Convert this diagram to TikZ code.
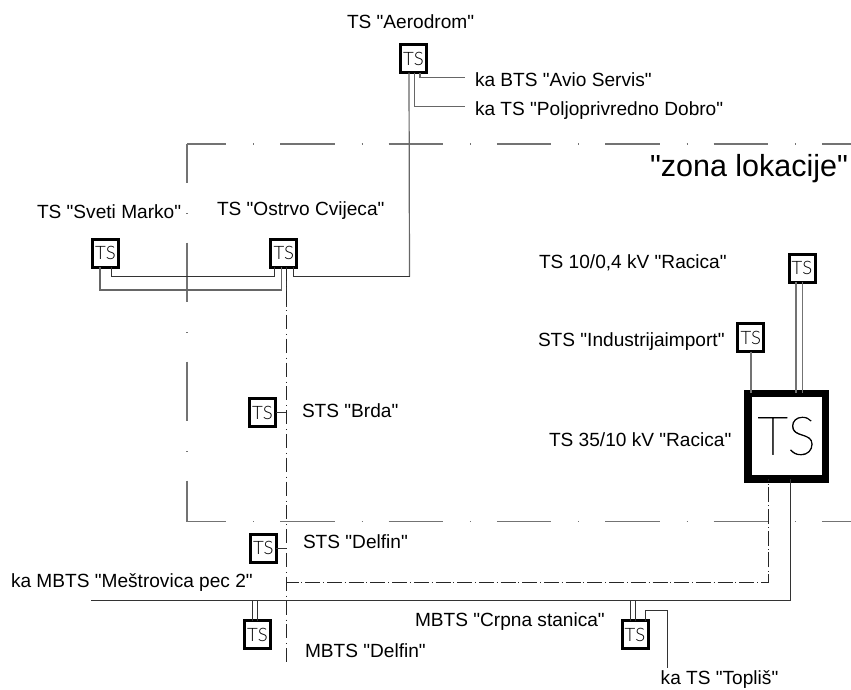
\documentclass[tikz,border=0pt]{standalone}
\usepackage{fontspec}
\setmainfont{Liberation Sans}[Ligatures=TeXOff]
\newfontfamily\thinfont{Lato Light}
\newfontfamily\hairfont{Lato Hairline}[FakeBold=1.2]
\tikzset{
  x=1pt,y=-1pt,
  tbox/.style={draw=black,fill=white,line width=3pt,minimum width=26pt,minimum height=28pt,inner sep=0pt,outer sep=0pt,
     font=\thinfont\fontsize{18.5}{18.5}\selectfont},
  bigbox/.style={draw=black,fill=white,line width=7.5pt,minimum width=77.5pt,minimum height=85.5pt,inner sep=0pt,outer sep=0pt,
     font=\hairfont\fontsize{53}{53}\selectfont},
  lbl/.style={anchor=base west,inner sep=0pt,outer sep=0pt,text=black,font=\fontsize{19.1}{20}\selectfont},
  wire/.style={draw=black!60,line width=1.2pt},
  thickwire/.style={draw=black!55,line width=1.4pt},
  darkwire/.style={draw=black!80,line width=0.9pt},
  zonel/.style={draw=black!55,line width=1.2pt},
  zoneh/.style={zonel,dash pattern=on 54.3pt off 27pt on 0.8pt off 26.2pt,dash phase=15pt},
  zonev/.style={zonel,dash pattern=on 59.5pt off 30pt on 0.8pt off 28.7pt,dash phase=20.5pt},
  dashdotv/.style={draw=black!85,line width=0.8pt,dash pattern=on 14pt off 5pt on 0.8pt off 4pt},
  dashdoth/.style={draw=black!85,line width=0.8pt,dash pattern=on 15pt off 2.7pt on 0.8pt off 3.2pt,dash phase=2.7pt},
}
\begin{document}
\begin{tikzpicture}
\useasboundingbox (0,0) rectangle (851,689);
% zone boundary
\coordinate (zTL) at (187,144);
\coordinate (zBL) at (187,521.7);
\coordinate (zTR) at (851,144);
\coordinate (zBR) at (851,521.7);
\draw[zoneh] (zTL) -- (zTR);
\draw[zoneh] (zBL) -- (zBR);
\draw[zonev] (zTL) -- (zBL);
% stations
\node[tbox] (aer) at (413.5,58.5) {TS};
\node[tbox] (mar) at (105.5,253.3) {TS};
\node[tbox] (ost) at (283.8,253.3) {TS};
\node[tbox] (rac) at (802,268) {TS};
\node[tbox] (ind) at (750.8,337.5) {TS};
\node[bigbox] (big) at (786.7,436) {TS};
\node[tbox] (brd) at (262.5,412.5) {TS};
\node[tbox] (dst) at (263.3,548.2) {TS};
\node[tbox] (dmb) at (257.5,634.5) {TS};
\node[tbox] (crp) at (635,634.5) {TS};
% free ends
\coordinate (avio) at (465,77.5);
\coordinate (polj) at (465,106.7);
\coordinate (corA) at (409.5,276.7);
\coordinate (rowB) at (0,290);
\coordinate (mbEnd) at (91,600.7);
\coordinate (bigCor) at (790.3,600.7);
\coordinate (ddv) at (286.3,666);
\coordinate (ddvS) at (286.3,307);
\coordinate (ddh) at (286.3,582);
\coordinate (ddC) at (768,582);
\coordinate (brdS) at (286.3,412.5);
\coordinate (dstS) at (286.3,548.2);
\coordinate (topA) at (667.7,610.3);
\coordinate (topB) at (667.7,667.7);
% Aerodrom
\draw[wire] ([xshift=-4.5pt]aer.south) -- (corA);
\draw[wire] ([xshift=1.2pt]aer.south) |- (polj);
\draw[wire] ([xshift=6.5pt]aer.south) |- (avio);
% Ostrvo
\draw[darkwire] ([xshift=10pt]ost.south) |- (corA);
\draw[darkwire] ([xshift=5.5pt]mar.south) |- ([xshift=-9.5pt]ost.south |- corA) -- ([xshift=-9.5pt]ost.south);
\draw[wire] ([xshift=-5.5pt]mar.south) |- ([xshift=-2.1pt]ost.south |- rowB) -- ([xshift=-2.1pt]ost.south);
\draw[darkwire] (ost.south -| ddv) -- (ddvS);
\draw[dashdotv] (ost.south -| ddv) -- (ddv);
% stubs
\draw[darkwire] (brd.east) -- (brdS);
\draw[darkwire] (dst.east) -- (dstS);
% Racica
\draw[thickwire] ([xshift=-6pt]rac.south) -- ([xshift=-6pt]rac.south |- big.north);
\draw[thickwire] ([xshift=0.7pt]rac.south) -- ([xshift=0.7pt]rac.south |- big.north);
\draw[thickwire] (ind.south) -- (ind.south |- big.north);
% bottom
\draw[darkwire] (big.south -| bigCor) -- (bigCor) -- (mbEnd);
\draw[dashdoth] (ddh) -- (ddC) -- (big.south -| ddC);
\draw[darkwire] ([xshift=-5.2pt]dmb.north) -- ([xshift=-5.2pt]dmb.north |- mbEnd);
\draw[darkwire] ([xshift=-0.2pt]dmb.north) -- ([xshift=-0.2pt]dmb.north |- mbEnd);
\draw[darkwire] ([xshift=-4.7pt]crp.north) -- ([xshift=-4.7pt]crp.north |- mbEnd);
\draw[darkwire] ([xshift=0.7pt]crp.north) -- ([xshift=0.7pt]crp.north |- mbEnd);
\draw[darkwire] ([xshift=10.7pt]crp.north) |- (topA) -- (topB);
% labels
\node[lbl] (t1) at (347,28) {TS "Aerodrom"};
\node[lbl] (t2) at (475,86) {ka BTS "Avio Servis"};
\node[lbl] (t3) at (475,115) {ka TS "Poljoprivredno Dobro"};
\node[lbl,font=\fontsize{30.5}{32}\selectfont] (t4) at (650,176) {"zona lokacije"};
\node[lbl] (t5) at (37,218) {TS "Sveti Marko"};
\node[lbl] (t6) at (217,215) {TS "Ostrvo Cvijeca"};
\node[lbl] (t7) at (539,268) {TS 10/0,4 kV "Racica"};
\node[lbl] (t8) at (538,346.7) {STS "Industrijaimport"};
\node[lbl] (t9) at (549,446.7) {TS 35/10 kV "Racica"};
\node[lbl] (t10) at (302,417) {STS "Brda"};
\node[lbl] (t11) at (303,548) {STS "Delfin"};
\node[lbl] (t12) at (11,587.7) {ka MBTS "Meštrovica pec 2"};
\node[lbl] (t13) at (305,657.7) {MBTS "Delfin"};
\node[lbl] (t14) at (415,626) {MBTS "Crpna stanica"};
\node[lbl] (t15) at (660.7,684.5) {ka TS "Topliš"};
\end{tikzpicture}
\end{document}
